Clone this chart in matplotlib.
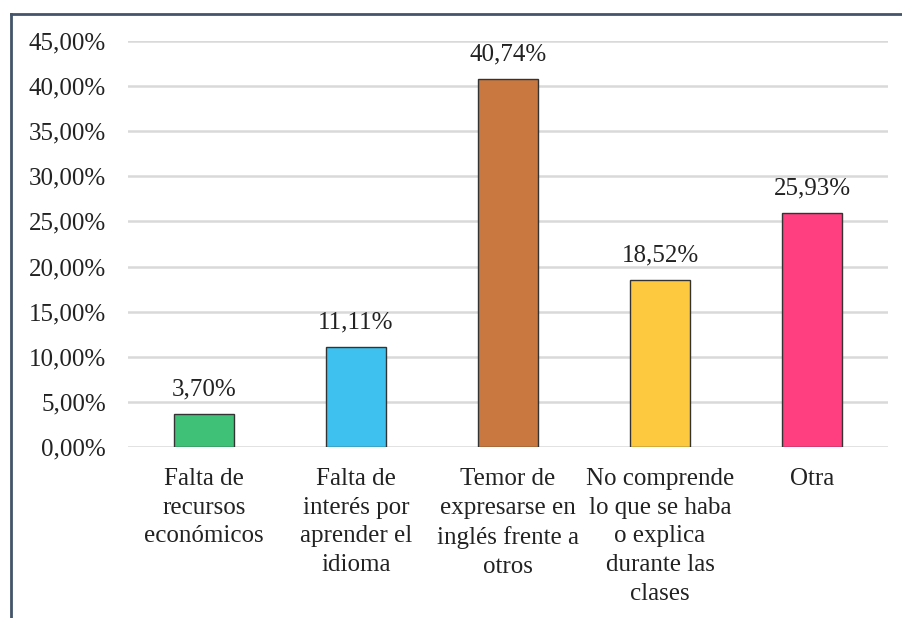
import matplotlib.pyplot as plt
from matplotlib.lines import Line2D
from matplotlib.ticker import FuncFormatter

categorias = ['Falta de\nrecursos\neconómicos',
              'Falta de\ninterés por\naprender el\nidioma',
              'Temor de\nexpresarse en\ninglés frente a\notros',
              'No comprende\nlo que se haba\no explica\ndurante las\nclases',
              'Otra']
valores = [3.70, 11.11, 40.74, 18.52, 25.93]
colores = ['#40C178', '#3FC1F0', '#C9783F', '#FDC93F', '#FF3F80']

plt.rcParams['font.family'] = ['Liberation Serif', 'DejaVu Serif']
plt.rcParams['font.size'] = 18

fig = plt.figure(figsize=(9.02, 6.18), dpi=100)
ax = fig.add_axes([0.1419, 0.2767, 0.8426, 0.657])

x = range(len(categorias))
ax.bar(x, valores, width=0.4, color=colores, edgecolor='#333333', linewidth=1, zorder=3)

for i, v in enumerate(valores):
    ax.text(i, v + 1.5, f'{v:.2f}%'.replace('.', ','), ha='center', va='bottom',
            color='#222222')

ax.set_xlim(-0.5, len(categorias) - 0.5)
ax.set_ylim(0, 45)
ax.set_yticks(range(0, 46, 5))
ax.yaxis.set_major_formatter(FuncFormatter(lambda v, p: f'{v:.2f}%'.replace('.', ',')))
ax.set_xticks(list(x))
ax.set_xticklabels(categorias, linespacing=1.4)
ax.tick_params(axis='both', length=0, colors='#222222')
ax.tick_params(axis='y', pad=16)
ax.tick_params(axis='x', pad=15)
ax.grid(axis='y', color='#D9D9D9', linewidth=1.8, zorder=0)
for s in ax.spines.values():
    s.set_visible(False)

# marco del gráfico
fig.add_artist(Line2D([10.5 / 902, 10.5 / 902], [0, 1 - 13.5 / 618],
                      transform=fig.transFigure, color='#44546A', linewidth=2))
fig.add_artist(Line2D([10.5 / 902, 1], [1 - 13.5 / 618, 1 - 13.5 / 618],
                      transform=fig.transFigure, color='#44546A', linewidth=2))

fig.savefig('out.png', dpi=100)
